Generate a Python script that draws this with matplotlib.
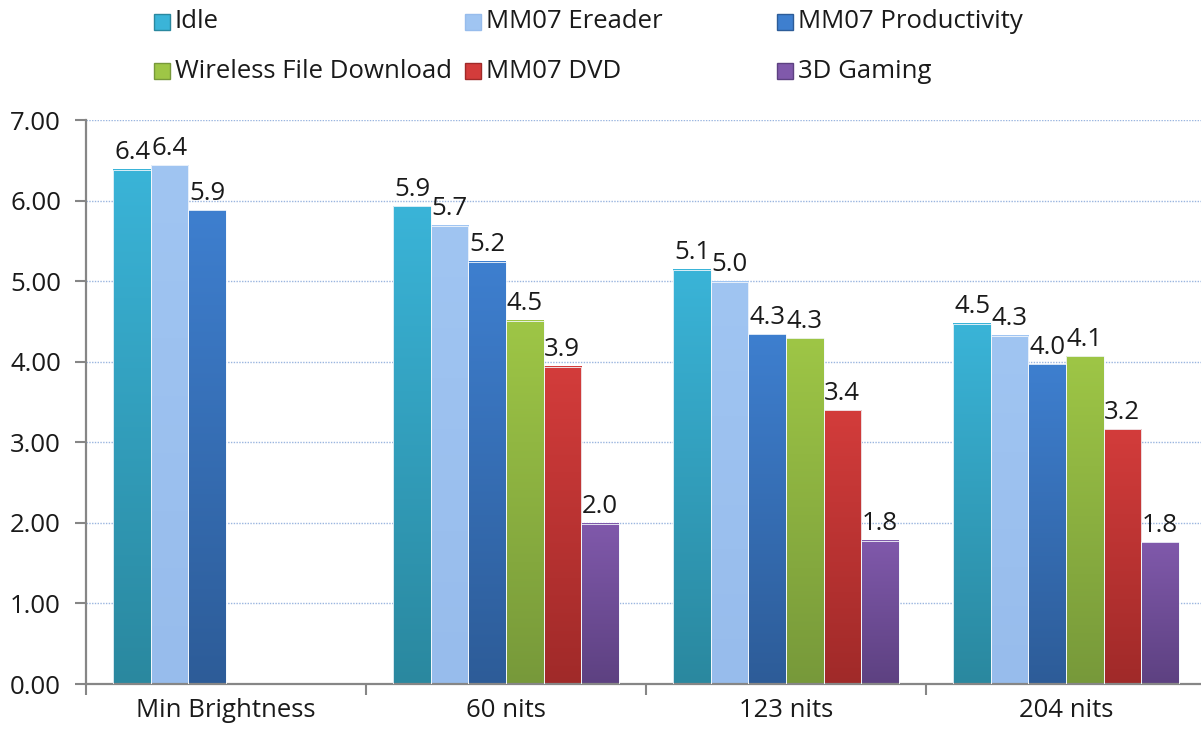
import numpy as np
import matplotlib
matplotlib.use('Agg')
import matplotlib.pyplot as plt
from matplotlib.colors import LinearSegmentedColormap
from matplotlib.patches import Rectangle

plt.rcParams['font.family'] = ['Open Sans', 'DejaVu Sans']

categories = ['Min Brightness', '60 nits', '123 nits', '204 nits']
series = ['Idle', 'MM07 Ereader', 'MM07 Productivity',
          'Wireless File Download', 'MM07 DVD', '3D Gaming']

idle = [6.38, 5.93, 5.14, 4.47]
ereader = [6.44, 5.69, 4.99, 4.32]
productivity = [5.88, 5.24, 4.34, 3.97]
wireless = [np.nan, 4.51, 4.29, 4.07]
dvd = [np.nan, 3.94, 3.40, 3.16]
gaming = [np.nan, 1.99, 1.78, 1.76]
values = [idle, ereader, productivity, wireless, dvd, gaming]

# (top colour, bottom colour) for each series gradient
colors = [('#3ab4d8', '#2a889f'),
          ('#a0c5f2', '#97bcec'),
          ('#3e7fcf', '#2d5c98'),
          ('#9ec646', '#77993a'),
          ('#d33c3b', '#a02a29'),
          ('#8059ab', '#5d4181')]

fig = plt.figure(figsize=(12.01, 7.32), dpi=100)
ax = fig.add_axes([86 / 1201, 1 - 684 / 732, 1120 / 1201, 564 / 732])

x = np.arange(len(categories))
width = 0.134
text_color = '#1a1a1a'
fs = 18.5

for i, (vals, (top, bottom)) in enumerate(zip(values, colors)):
    offs = (i - 2.5) * width
    bars = ax.bar(x + offs, vals, width, facecolor='none',
                  edgecolor='#f4f8fc', linewidth=0.6, zorder=3)
    cmap = LinearSegmentedColormap.from_list(f'g{i}', [bottom, top])
    grad = np.linspace(0, 1, 256).reshape(-1, 1)
    for rect, v in zip(bars, vals):
        if np.isnan(v):
            continue
        x0 = rect.get_x()
        w = rect.get_width()
        h = rect.get_height()
        ax.imshow(grad, extent=[x0, x0 + w, 0, h], origin='lower',
                  cmap=cmap, aspect='auto', zorder=2, interpolation='bilinear')
        ax.text(x0 + w / 2, h + 0.13, f'{v:.1f}', ha='center', va='baseline',
                fontsize=fs, color=text_color, zorder=4)

ax.set_xlim(-0.5, 3.5)
ax.set_ylim(0, 7)
ax.set_yticks(np.arange(0, 8, 1))
ax.set_yticklabels([f'{t:.2f}' for t in range(8)])
ax.set_xticks(x)
ax.set_xticklabels(categories)
ax.set_xticks(np.arange(-0.5, 3.6, 1), minor=True)

ax.grid(axis='y', color='#9ab5df', linestyle=(0, (1, 1)), linewidth=1.0, zorder=0)
ax.set_axisbelow(True)

for side in ['top', 'right']:
    ax.spines[side].set_visible(False)
for side in ['left', 'bottom']:
    ax.spines[side].set_color('#868686')
    ax.spines[side].set_linewidth(1.6)

ax.tick_params(axis='y', length=8, width=1.5, color='#868686', pad=10,
               labelsize=fs, labelcolor=text_color)
ax.tick_params(axis='x', which='major', length=0, pad=10,
               labelsize=fs, labelcolor=text_color)
ax.tick_params(axis='x', which='minor', length=8, width=1.5, color='#868686')

# legend drawn as two rows of three
legend_cols = [154 / 1201, 465 / 1201, 777 / 1201]
legend_rows = [1 - 22 / 732, 1 - 71 / 732]
sq_w = 16 / 1201
sq_h = 16 / 732
for i, (name, (top, bottom)) in enumerate(zip(series, colors)):
    lx = legend_cols[i % 3]
    ly = legend_rows[i // 3]
    fig.add_artist(Rectangle((lx, ly - sq_h / 2), sq_w, sq_h,
                             transform=fig.transFigure, facecolor=top,
                             edgecolor=bottom, linewidth=1.0))
    fig.text(lx + sq_w + 5 / 1201, ly, name, ha='left', va='center',
             fontsize=fs, color=text_color)

fig.savefig('out.png', dpi=100)
